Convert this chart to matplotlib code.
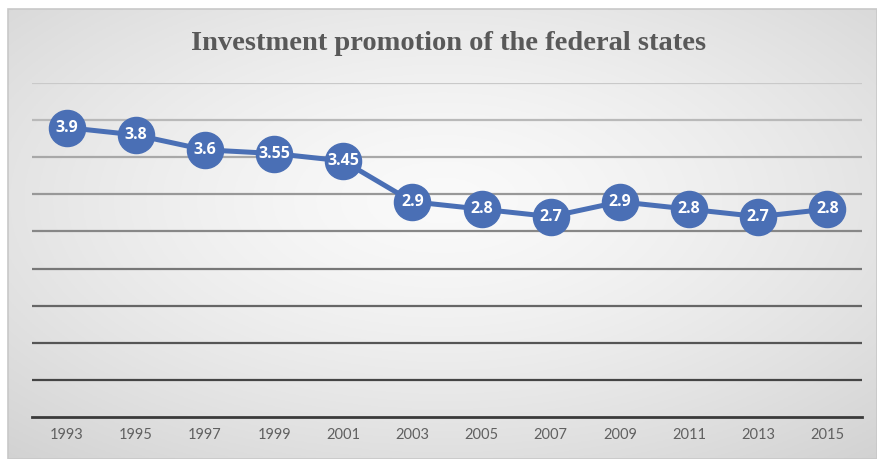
#!/usr/bin/env python3
"""
Investment promotion of the federal states, line chart with labelled markers.
"""

import numpy as np
import matplotlib
matplotlib.use("Agg")
import matplotlib.pyplot as plt
from matplotlib.patches import Rectangle

years = ["1993", "1995", "1997", "1999", "2001", "2003",
         "2005", "2007", "2009", "2011", "2013", "2015"]
values = [3.9, 3.8, 3.6, 3.55, 3.45, 2.9, 2.8, 2.7, 2.9, 2.8, 2.7, 2.8]
labels = ["3.9", "3.8", "3.6", "3.55", "3.45", "2.9",
          "2.8", "2.7", "2.9", "2.8", "2.7", "2.8"]
grid_levels = [0.5, 1.0, 1.5, 2.0, 2.5, 3.0, 3.5, 4.0, 4.5]

W, H = 877, 459
fig = plt.figure(figsize=(W / 100, H / 100), dpi=100)
fig.patch.set_facecolor("white")

# chart box with a soft radial gradient
bx0, by1 = 8 / W, 1 - 9 / H
bg = fig.add_axes([bx0, 0, 1 - bx0, by1])
bg.set_axis_off()
yy, xx = np.mgrid[-1:1:200j, -1:1:400j]
r = np.sqrt(xx ** 2 + (yy + 0.15) ** 2) / np.sqrt(2)
shade = 0.98 - 0.14 * r ** 1.4
img = np.dstack([shade, shade, shade])
bg.imshow(img, extent=[0, 1, 0, 1], aspect="auto", zorder=0)
bg.set_xlim(0, 1)
bg.set_ylim(0, 1)
fig.patches.append(Rectangle((bx0, 0), 1 - bx0, by1, transform=fig.transFigure,
                             fill=False, edgecolor="#c8c8c8", lw=1.2, zorder=1))

ax = fig.add_axes([32 / W, 1 - 417 / H, (862 - 32) / W, (417 - 83) / H])
ax.set_facecolor("none")
x = np.arange(len(years))
ax.set_xlim(-0.5, len(years) - 0.5)
ax.set_ylim(0, 4.5)

# gridlines darken towards the bottom
for i, g in enumerate(grid_levels):
    t = i / (len(grid_levels) - 1)
    c = 0.27 + 0.52 * t
    ax.axhline(g, color=(c, c, c), lw=1.6, zorder=1)
ax.axhline(0, color="#3a3a3a", lw=2.0, zorder=1, clip_on=False)

ax.plot(x, values, color="#4a6fb5", lw=3.6, marker="o", markersize=26,
        markerfacecolor="#4a6fb5", markeredgecolor="#4a6fb5", zorder=3)
for xi, v, lab in zip(x, values, labels):
    ax.text(xi, v, lab, ha="center", va="center", color="white",
            fontsize=11.5, fontweight="bold", family="Open Sans", zorder=4)

ax.set_yticks([])
ax.set_xticks(x)
ax.set_xticklabels(years, color="#606060", fontsize=10.5, family="Lato")
ax.tick_params(axis="x", length=0, pad=8)
for s in ax.spines.values():
    s.set_visible(False)

fig.text(0.512, 1 - 44 / H, "Investment promotion of the federal states",
         ha="center", va="center", fontsize=20.5, fontweight="bold",
         family="Liberation Serif", color="#595959")

fig.savefig("out.png", dpi=100)
